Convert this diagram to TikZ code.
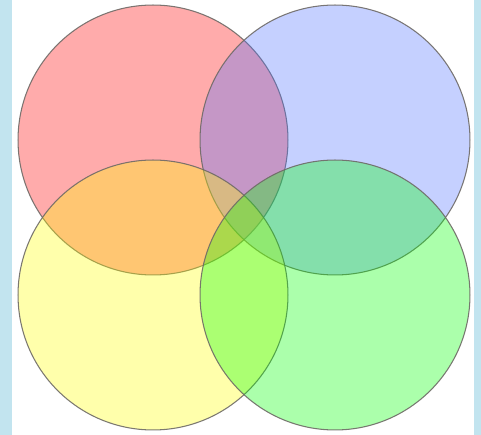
\documentclass[tikz,border=0pt]{standalone}
\usepackage{tikz}
\definecolor{Frame}{HTML}{C2E4EF}
\definecolor{Rim}{HTML}{6E6A66}
\definecolor{SetRed}{HTML}{FF0000}
\definecolor{SetBlue}{HTML}{4F71FF}
\definecolor{SetYellow}{HTML}{FFFF00}
\definecolor{SetGreen}{HTML}{00FF00}
\tikzset{
 set/.style={draw=Rim,line width=0.6pt,fill opacity=0.33,draw opacity=0.9},
 strip/.style={fill=Frame,draw=none}
}
\begin{document}
\begin{tikzpicture}[x=0.02cm,y=-0.02cm]
\useasboundingbox (0,0) rectangle (481,435);
\fill[strip] (0,0) rectangle (12,435);
\fill[strip] (474,0) rectangle (481,435);
\fill[white] (12,0) rectangle (474,435);
% four sets
\foreach \c/\x/\y in {SetRed/153/140,SetBlue/335/140,SetYellow/153/295,SetGreen/335/295}
 \path[set,fill=\c] (\x,\y) circle[radius=2.7cm];
\end{tikzpicture}
\end{document}
